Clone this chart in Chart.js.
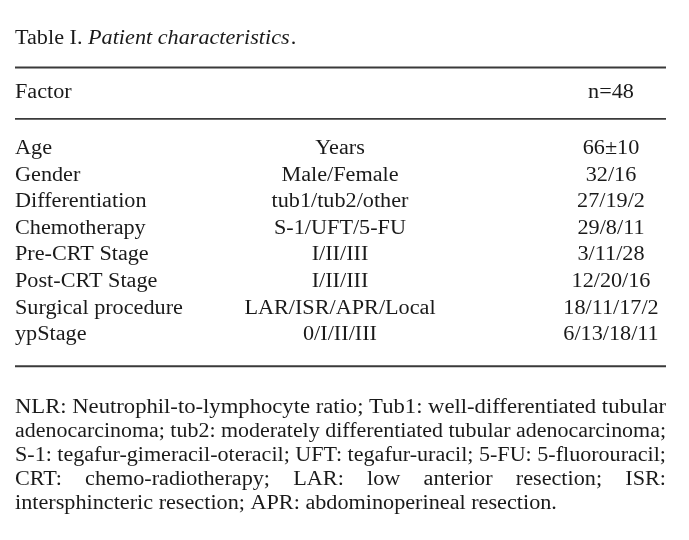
<!DOCTYPE html>
<html>
<head>
<meta charset="utf-8">
<script src="https://cdn.jsdelivr.net/npm/chart.js@4"></script>
<style>html,body{margin:0;padding:0;background:#fff}</style>
</head>
<body>
<canvas id="c" width="689" height="540"></canvas>
<script>
// Data
const titleParts = ['Table I. ', 'Patient characteristics', '.'];
const headers = ['Factor', '', 'n=48'];
const factors = ['Age', 'Gender', 'Differentiation', 'Chemotherapy', 'Pre-CRT Stage', 'Post-CRT Stage', 'Surgical procedure', 'ypStage'];
const categories = ['Years', 'Male/Female', 'tub1/tub2/other', 'S-1/UFT/5-FU', 'I/II/III', 'I/II/III', 'LAR/ISR/APR/Local', '0/I/II/III'];
const values = ['66±10', '32/16', '27/19/2', '29/8/11', '3/11/28', '12/20/16', '18/11/17/2', '6/13/18/11'];
const notes = [
  'NLR: Neutrophil-to-lymphocyte ratio; Tub1: well-differentiated tubular',
  'adenocarcinoma; tub2: moderately differentiated tubular adenocarcinoma;',
  'S-1: tegafur-gimeracil-oteracil; UFT: tegafur-uracil; 5-FU: 5-fluorouracil;',
  'CRT: chemo-radiotherapy; LAR: low anterior resection; ISR:',
  'intersphincteric resection; APR: abdominoperineal resection.'
];
// jak se řádek poznámky zarovná: 'fit' = roztáhnout písmo, 'gap' = roztáhnout mezery, 'left' = nechat
const noteModes = ['fit', 'fit', 'fit', 'gap', 'left'];

// Rozvržení
const colX = [15, 340, 611];
const colAlign = ['left', 'center', 'center'];
const rowStep = 26.6, firstRow = 154;
const headerRow = -2.09;
const LEFT = 15, RIGHT = 666;
const SX = 1.11;
const FONT = '20px "Liberation Serif"';
const INK = '#1a1a1a';

function drawText(ctx, s, x, y, align, font, sx) {
  sx = sx || SX;
  ctx.save();
  ctx.font = font || FONT;
  const w = ctx.measureText(s).width * sx;
  const x0 = align === 'center' ? x - w / 2 : align === 'right' ? x - w : x;
  ctx.translate(x0, y);
  ctx.scale(sx, 1);
  ctx.textAlign = 'left';
  ctx.textBaseline = 'alphabetic';
  ctx.fillStyle = INK;
  ctx.fillText(s, 0, 0);
  ctx.restore();
  return w;
}

function textWidth(ctx, s, font) {
  ctx.save();
  ctx.font = font || FONT;
  const w = ctx.measureText(s).width;
  ctx.restore();
  return w;
}

function rule(ctx, y, lw) {
  ctx.save();
  ctx.strokeStyle = '#3a3a3a';
  ctx.lineWidth = lw;
  ctx.beginPath();
  ctx.moveTo(LEFT, y);
  ctx.lineTo(RIGHT, y);
  ctx.stroke();
  ctx.restore();
}

const tablePlugin = {
  id: 'tableText',
  afterDatasetsDraw(chart) {
    const ctx = chart.ctx;
    const y = chart.scales.y;
    chart.data.datasets.forEach((ds, di) => {
      chart.getDatasetMeta(di).data.forEach((el, i) => {
        drawText(ctx, ds.texts[i], el.x, el.y, ds.aligns[i]);
      });
    });
    // Čáry
    rule(ctx, y.getPixelForValue(-3.25), 2);
    rule(ctx, y.getPixelForValue(-1.32), 1.6);
    rule(ctx, y.getPixelForValue(7.98), 2);
    // Nadpis
    let x = LEFT;
    x += drawText(ctx, titleParts[0], x, 44, 'left');
    x += drawText(ctx, titleParts[1], x, 44, 'left', 'italic 20px "Liberation Serif"');
    drawText(ctx, titleParts[2], x + 1, 44, 'left');
    // Poznámky (zarovnání do bloku)
    notes.forEach((line, li) => {
      const by = 413 + li * 24;
      const mode = noteModes[li];
      if (mode === 'left') {
        drawText(ctx, line, LEFT, by, 'left');
      } else if (mode === 'fit') {
        const sx = (RIGHT - LEFT) / textWidth(ctx, line);
        drawText(ctx, line, LEFT, by, 'left', FONT, sx);
      } else {
        const words = line.split(' ');
        const ws = words.map(w => textWidth(ctx, w) * SX);
        const total = ws.reduce((a, b) => a + b, 0);
        const gap = (RIGHT - LEFT - total) / (words.length - 1);
        let px = LEFT;
        words.forEach((w, wi) => {
          drawText(ctx, w, px, by, 'left');
          px += ws[wi] + gap;
        });
      }
    });
  }
};

const columns = [factors, categories, values];
const datasets = columns.map((col, c) => ({
  data: col.map((_, i) => ({ x: colX[c], y: i })),
  texts: col,
  aligns: col.map(() => colAlign[c]),
  pointRadius: 0,
  showLine: false
}));
datasets.push({
  data: headers.map((_, c) => ({ x: colX[c], y: headerRow })),
  texts: headers,
  aligns: colAlign,
  pointRadius: 0,
  showLine: false
});

const yMin = -firstRow / rowStep;
const yMax = yMin + 540 / rowStep;

new Chart(document.getElementById('c'), {
  type: 'scatter',
  data: { datasets },
  options: {
    responsive: false,
    animation: false,
    devicePixelRatio: 1,
    layout: { padding: 0 },
    plugins: { legend: { display: false }, tooltip: { enabled: false } },
    scales: {
      x: { type: 'linear', display: false, min: 0, max: 689 },
      y: { type: 'linear', display: false, reverse: true, min: yMin, max: yMax }
    }
  },
  plugins: [tablePlugin]
});
</script>
</body>
</html>
